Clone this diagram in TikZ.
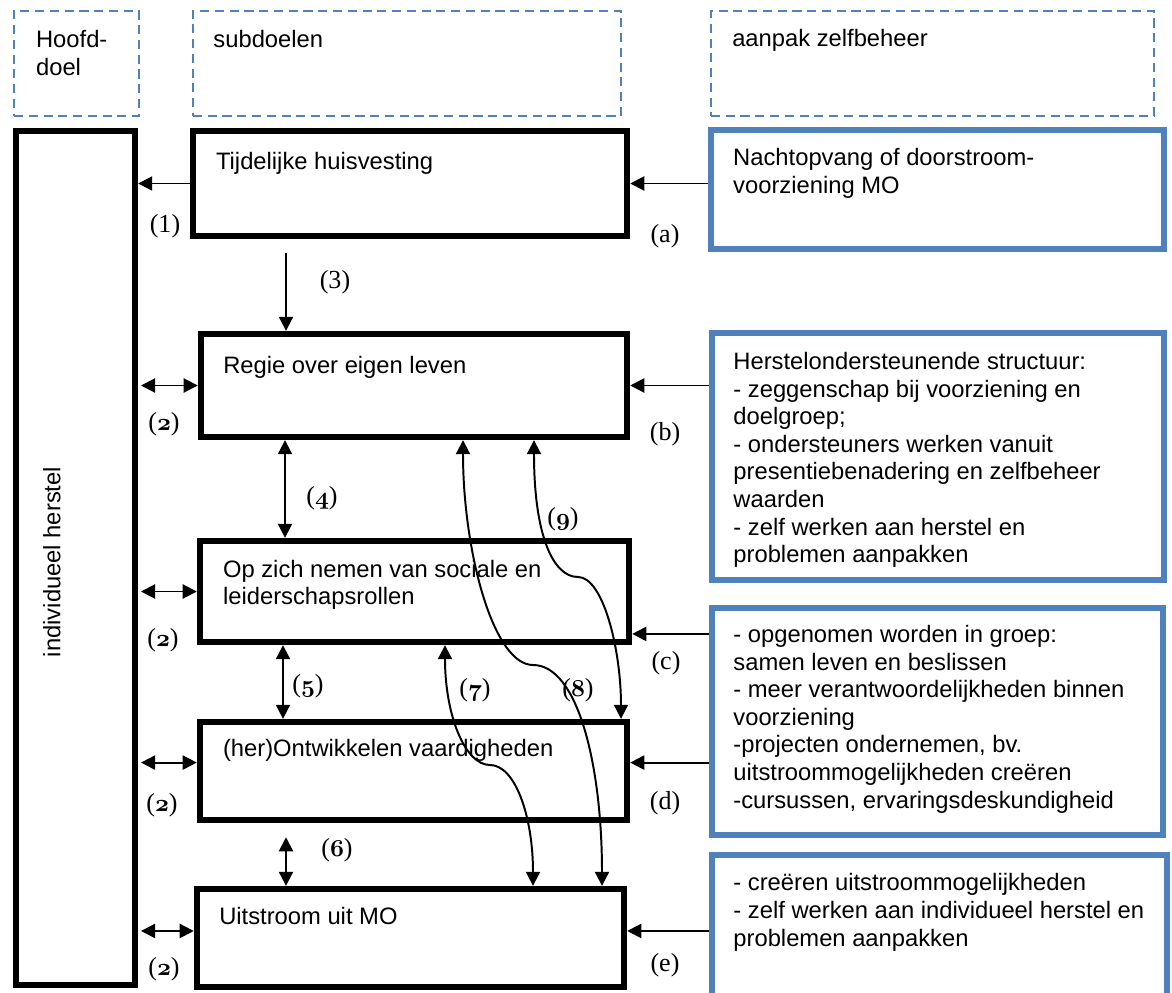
\documentclass[tikz,border=0pt]{standalone}
\usepackage{fontspec}
\usepackage{tikz}
\usetikzlibrary{arrows.meta,positioning}
\newfontfamily\arialfont{Liberation Sans}
\newfontfamily\timesfont{Liberation Serif}
\definecolor{zbblue}{HTML}{4F81BD}
\newcommand{\osn}[1]{{\boldmath$\mathnormal{#1}$}}

\begin{document}
\begin{tikzpicture}[x=0.025cm, y=0.025cm]
\tikzstyle{every node}+=[inner sep=0pt]
\tikzstyle{kopbox}=[draw=zbblue, line width=1.4pt, dash pattern=on 6.5pt off 4pt]
\tikzstyle{doelbox}=[draw=black, line width=4.5pt]
\tikzstyle{aanpakbox}=[draw=zbblue, line width=4pt]
\tikzstyle{txt}=[font=\arialfont\fontsize{16.9pt}{19.6pt}\selectfont, align=left]
\tikzstyle{lbl}=[font=\timesfont\fontsize{18.5pt}{22pt}\selectfont]
\tikzstyle{arr}=[-{Triangle[length=10pt,width=10pt]}, line width=1.4pt]
\tikzstyle{darr}=[{Triangle[length=10pt,width=10pt]}-{Triangle[length=10pt,width=10pt]}, line width=1.4pt]
\useasboundingbox (0,0) rectangle (1172,-993);
\node[kopbox, minimum width=3.125cm, minimum height=2.625cm] (hd) at (76.5,-63.5) {};
\node[kopbox, minimum width=10.7cm, minimum height=2.625cm] (sd) at (407,-63.5) {};
\node[kopbox, minimum width=11.075cm, minimum height=2.625cm] (zb) at (932.5,-63.5) {};
\node[txt, below right=0.5cm and 0.57cm of hd.north west] (hdt) {Hoofd-\\doel};
\node[txt, below right=0.5cm and 0.53cm of sd.north west] (sdt) {subdoelen};
\node[txt, below right=0.48cm and 0.55cm of zb.north west] (zbt) {aanpak zelfbeheer};
\node[doelbox, minimum width=2.975cm, minimum height=21.35cm] (lb) at (75.5,-558) {};
\node[txt, rotate=90] (lbt) at (52,-562) {individueel herstel};
\node[doelbox, minimum width=10.85cm, minimum height=2.625cm] (b1) at (410,-183.5) {};
\node[doelbox, minimum width=10.65cm, minimum height=2.575cm] (b2) at (414,-385.5) {};
\node[doelbox, minimum width=10.725cm, minimum height=2.525cm] (b3) at (414.5,-591.5) {};
\node[doelbox, minimum width=10.675cm, minimum height=2.45cm] (b4) at (413.5,-771) {};
\node[doelbox, minimum width=10.675cm, minimum height=2.45cm] (b5) at (410.5,-938) {};
\node[txt, below right=0.6cm and 0.65cm of b1.north west] (b1t) {Tijdelijke huisvesting};
\node[txt, below right=0.62cm and 0.63cm of b2.north west] (b2t) {Regie over eigen leven};
\node[txt, below right=0.55cm and 0.65cm of b3.north west] (b3t) {Op zich nemen van sociale en\\leiderschapsrollen};
\node[txt, below right=0.5cm and 0.65cm of b4.north west] (b4t) {(her)Ontwikkelen vaardigheden};
\node[txt, below right=0.53cm and 0.63cm of b5.north west] (b5t) {Uitstroom uit MO};
\node[aanpakbox, minimum width=11.325cm, minimum height=2.975cm] (r1) at (937.5,-189.5) {};
\node[aanpakbox, minimum width=11.3cm, minimum height=6.175cm] (r2) at (938,-456.5) {};
\node[aanpakbox, minimum width=11.275cm, minimum height=5.675cm] (r3) at (937.5,-721.5) {};
\node[aanpakbox, minimum width=11.375cm, minimum height=3.625cm] (r4) at (939.5,-927.5) {};
\node[txt, below right=0.53cm and 0.62cm of r1.north west] (r1t) {Nachtopvang of doorstroom-\\voorziening MO};
\node[txt, below right=0.55cm and 0.6cm of r2.north west] (r2t) {Herstelondersteunende structuur:\\- zeggenschap bij voorziening en\\doelgroep;\\- ondersteuners werken vanuit\\presentiebenadering en zelfbeheer\\waarden\\- zelf werken aan herstel en\\problemen aanpakken};
\node[txt, below right=0.5cm and 0.6cm of r3.north west] (r3t) {- opgenomen worden in groep:\\samen leven en beslissen\\- meer verantwoordelijkheden binnen\\voorziening\\-projecten ondernemen, bv.\\uitstroommogelijkheden creëren\\-cursussen, ervaringsdeskundigheid};
\node[txt, below right=0.53cm and 0.6cm of r4.north west] (r4t) {- creëren uitstroommogelijkheden\\- zelf werken aan individueel herstel en\\problemen aanpakken};
\draw[arr] (b1.west) -- (lb.east |- b1.west);
\draw[darr, shorten <=2pt] (lb.east |- b2.west) -- (b2.west);
\draw[darr, shorten <=2pt] (lb.east |- b3.west) -- (b3.west);
\draw[darr, shorten <=2pt] ([yshift=6pt]lb.east |- b4.west) -- ([yshift=6pt]b4.west);
\draw[darr, shorten <=2pt] ([yshift=5pt]lb.east |- b5.west) -- ([yshift=5pt]b5.west);
\draw[arr] (r1.west |- b1.east) -- (b1.east);
\draw[arr] (r2.west |- b2.east) -- (b2.east);
\draw[arr] ([yshift=8pt]r3.west |- b3.south east) -- ([yshift=8pt]b3.south east);
\draw[arr] ([yshift=6pt]r3.west |- b4.east) -- ([yshift=6pt]b4.east);
\draw[arr] ([yshift=5pt]r4.west |- b5.east) -- ([yshift=5pt]b5.east);
\draw[arr, shorten <=10pt] (b1.south -| 286,0) -- (b2.north -| 286,0);
\draw[darr] (b2.south -| 285,0) -- (b3.north -| 285,0);
\draw[darr] (b3.south -| 283,0) -- (b4.north -| 283,0);
\draw[darr, shorten <=10pt] (b4.south -| 286,0) -- (b5.north -| 286,0);
\draw[darr] (b3.south -| 445,0) .. controls +(0,-70) and +(-25,0) .. (490,-765) .. controls +(25,0) and +(0,70) .. (b5.north -| 533,0);
\draw[darr] (b2.south -| 463,0) .. controls +(0,-110) and +(-40,0) .. (533,-665) .. controls +(45,0) and +(0,120) .. (b5.north -| 602,0);
\draw[darr] (b2.south -| 534,0) .. controls +(0,-95) and +(-25,0) .. (578,-577) .. controls +(25,0) and +(0,70) .. (b4.north -| 621,0);
\node[lbl] (l1) at (165,-226) {(1)};
\node[lbl] (l2b) at (164,-424) {(\osn{2})};
\node[lbl] (l2c) at (163,-640) {(\osn{2})};
\node[lbl] (l2d) at (162,-805) {(\osn{2})};
\node[lbl] (l2e) at (164,-969) {(\osn{2})};
\node[lbl] (l3) at (335,-282) {(3)};
\node[lbl] (l4) at (322,-498) {(\osn{4})};
\node[lbl] (l5) at (308,-686) {(\osn{5})};
\node[lbl] (l6) at (337,-850) {(\osn{6})};
\node[lbl] (l7) at (475,-690) {(\osn{7})};
\node[lbl] (l8) at (578,-690) {(\osn{8})};
\node[lbl] (l9) at (563,-519) {(\osn{9})};
\node[lbl] (la) at (665,-236) {(a)};
\node[lbl] (lb2) at (665,-434) {(b)};
\node[lbl] (lc) at (666,-663) {(c)};
\node[lbl] (ld) at (665,-803) {(d)};
\node[lbl] (le) at (665,-965) {(e)};
\end{tikzpicture}
\end{document}
